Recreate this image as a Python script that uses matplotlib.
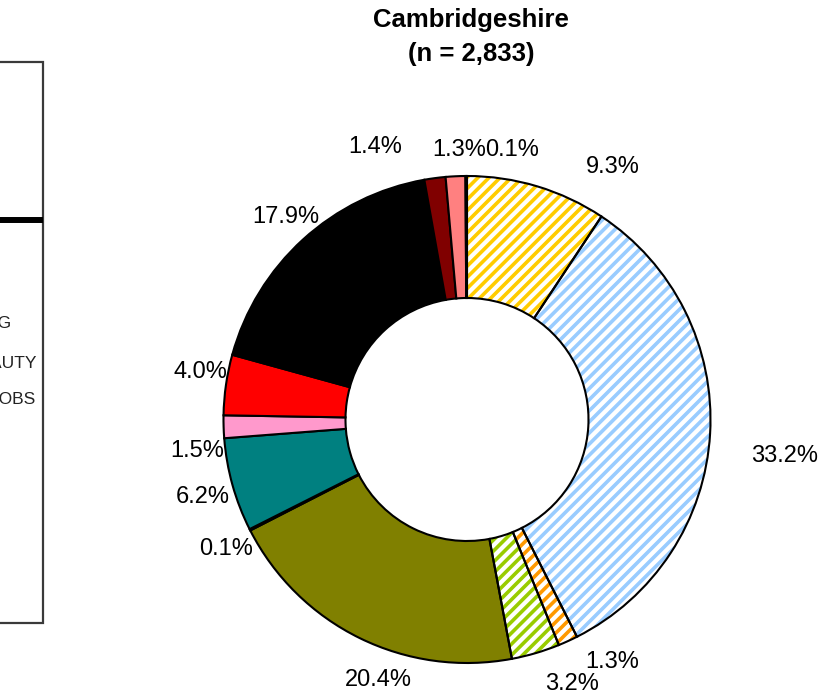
import matplotlib
matplotlib.use("Agg")
import matplotlib.pyplot as plt
from matplotlib.patches import Wedge, Rectangle
import numpy as np

plt.rcParams['font.family'] = ['Liberation Sans', 'DejaVu Sans']
plt.rcParams['hatch.linewidth'] = 2.6

# ---------------- data ----------------
title = "Cambridgeshire"
subtitle = "(n = 2,833)"
values = [9.3, 33.2, 1.3, 3.2, 20.4, 0.1, 6.2, 1.5, 4.0, 17.9, 1.4, 1.3, 0.1]
labels = ["9.3%", "33.2%", "1.3%", "3.2%", "20.4%", "0.1%", "6.2%", "1.5%",
          "4.0%", "17.9%", "1.4%", "1.3%", "0.1%"]
colors = ["#FFCC00", "#99CCFF", "#FF9900", "#99CC00", "#808000", "#FFFFFF",
          "#008080", "#FF99CC", "#FF0000", "#000000", "#800000", "#FF8080",
          "#FF00FF"]
hatched = [True, True, True, True, False, False, False, False, False, False,
           False, False, False]
legend_texts = ["HOUSING", "BEAUTY", "JOBS"]

# ---------------- layout / style ----------------
W, H = 826, 694
cx, cy = 467, H - 419.5
R_out, ring_w = 243.5, 122
# label placement: angular nudge (deg, clockwise) and radius factor
label_nudge = [13.2, 3.2, -6.4, -5.2, -7.4, -1.3, -0.8, -4.9, 1.8, 0.5, -11.0, 1.0, 9.6]
label_rad = [1.196, 1.314, 1.162, 1.17, 1.128, 1.121, 1.131, 1.117, 1.112, 1.118,
             1.18, 1.108, 1.12]

fig = plt.figure(figsize=(W / 100, H / 100), dpi=100)
ax = fig.add_axes([0, 0, 1, 1])
ax.axis('off')

face = ["white" if h else c for h, c in zip(hatched, colors)]
wedges, _ = ax.pie(values, radius=R_out, center=(cx, cy), startangle=90,
                   counterclock=False, colors=face,
                   wedgeprops=dict(width=ring_w, edgecolor='black', linewidth=1.5))
ax.set_xlim(0, W)
ax.set_ylim(0, H)
ax.set_aspect('equal')

for w, h, c in zip(wedges, hatched, colors):
    if h:
        w.set_edgecolor(c)
        w.set_hatch('///')
        w.set_linewidth(0)
        outline = Wedge(w.center, w.r, w.theta1, w.theta2, width=w.width,
                        fill=False, edgecolor='black', linewidth=1.5,
                        zorder=w.get_zorder() + 1)
        ax.add_patch(outline)

for w, lab, nd, rf in zip(wedges, labels, label_nudge, label_rad):
    mid = 0.5 * (w.theta1 + w.theta2)
    ang = np.deg2rad(mid - nd)
    x = cx + rf * R_out * np.cos(ang)
    y = cy + rf * R_out * np.sin(ang)
    ax.text(x, y, lab, ha='center', va='center', fontsize=17, color='black')

ax.text(471, H - 27, title, ha='center', va='baseline', fontsize=18.5,
        fontweight='bold')
ax.text(471, H - 61, subtitle, ha='center', va='baseline', fontsize=18.5,
        fontweight='bold')

# partially visible legend box on the left
ax.add_patch(Rectangle((-10, H - 623), 53, 561, fill=False, edgecolor='#3a3a3a',
                       linewidth=1.6, clip_on=False))
ax.plot([-5, 43], [H - 220, H - 220], color='black', linewidth=4.3,
        solid_capstyle='butt')
for txt, xr, yy in zip(legend_texts, [12, 37, 36], [323, 363, 399]):
    ax.text(xr, H - yy, txt, ha='right', va='center', fontsize=12.5,
            color='#222222')

fig.savefig("out.png", dpi=100)
